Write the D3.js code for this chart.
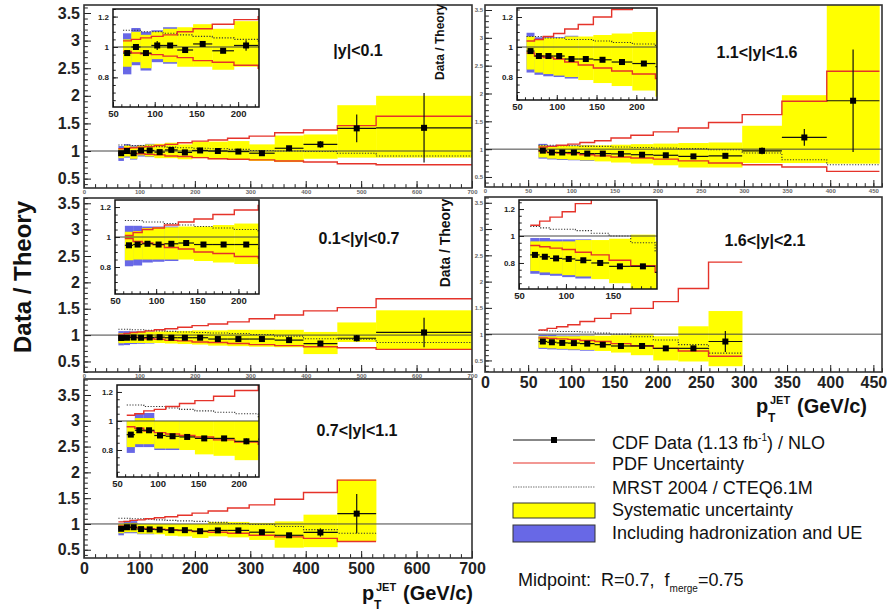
<!DOCTYPE html>
<html lang="en">
<head>
<meta charset="utf-8">
<title>Data / Theory</title>
<script src="https://cdn.jsdelivr.net/npm/d3@7"></script>
<style>
  body { margin: 0; background: #fff; }
  text { font-family: "Liberation Sans", Arial, sans-serif; }
</style>
</head>
<body>
<svg id="chart" width="889" height="614"></svg>
<script>
// pT bin edges (GeV/c), shared by all rapidity regions
var edges = [62, 72, 83, 96, 110, 127, 146, 169, 195, 224, 259, 298, 344, 396, 457, 527, 700];

// |y|<0.1
var ratioA = [0.96, 1.0, 0.96, 1.01, 1.01, 0.98, 1.02, 0.975, 1.01, 1.0, 0.99, 0.96, 1.05, 1.12, 1.41, 1.42];
var statA  = [0.01, 0.01, 0.015, 0.03, 0.01, 0.01, 0.01, 0.015, 0.035, 0.01, 0.01, 0.02, 0.03, 0.06, 0.25, 0.63];
var sysUpA = [1.05, 1.1, 1.08, 1.1, 1.12, 1.13, 1.15, 1.12, 1.17, 1.17, 1.18, 1.12, 1.28, 1.3, 1.83, 2.0];
var sysLoA = [0.87, 0.9, 0.86, 0.92, 0.9, 0.87, 0.87, 0.85, 0.87, 0.85, 0.84, 0.82, 0.8, 0.86, 0.88, 0.88];
var hadUpA = [1.09, 1.125, 1.1, 1.11, 1.13];
var hadLoA = [0.82, 0.88, 0.845, 0.9, 0.89];
var pdfUpA = [1.04, 1.05, 1.06, 1.07, 1.08, 1.1, 1.12, 1.15, 1.18, 1.2, 1.23, 1.27, 1.33, 1.38, 1.46, 1.63];
var pdfLoA = [0.97, 0.96, 0.955, 0.95, 0.94, 0.93, 0.91, 0.9, 0.88, 0.86, 0.85, 0.84, 0.82, 0.8, 0.77, 0.75];
var mrstA  = [1.11, 1.11, 1.1, 1.1, 1.09, 1.08, 1.07, 1.06, 1.05, 1.04, 1.03, 1.01, 1.0, 0.99, 0.96, 0.91];

// 0.1<|y|<0.7
var ratioB = [0.945, 0.95, 0.955, 0.95, 0.955, 0.96, 0.95, 0.95, 0.95, 0.925, 0.925, 0.925, 0.905, 0.84, 0.94, 1.05];
var statB  = [0.005, 0.005, 0.005, 0.005, 0.005, 0.005, 0.005, 0.01, 0.01, 0.01, 0.02, 0.02, 0.03, 0.05, 0.06, 0.28];
var sysUpB = [1.035, 1.04, 1.06, 1.065, 1.065, 1.07, 1.07, 1.08, 1.09, 1.09, 1.1, 1.1, 1.1, 1.06, 1.24, 1.47];
var sysLoB = [0.845, 0.85, 0.85, 0.85, 0.85, 0.85, 0.84, 0.83, 0.82, 0.8, 0.79, 0.78, 0.77, 0.64, 0.87, 0.72];
var hadUpB = [1.075, 1.075, 1.07, 1.07, 1.07];
var hadLoB = [0.805, 0.81, 0.83, 0.835, 0.84];
var pdfUpB = [1.01, 1.03, 1.05, 1.06, 1.08, 1.1, 1.12, 1.15, 1.18, 1.21, 1.25, 1.31, 1.38, 1.46, 1.52, 1.69];
var pdfLoB = [0.99, 0.97, 0.96, 0.95, 0.93, 0.92, 0.9, 0.89, 0.87, 0.86, 0.84, 0.82, 0.8, 0.78, 0.76, 0.73];
var mrstB  = [1.11, 1.11, 1.1, 1.1, 1.09, 1.08, 1.07, 1.06, 1.05, 1.04, 1.03, 1.01, 0.98, 0.93, 0.92, 0.86];

// 0.7<|y|<1.1
var ratioC = [0.906, 0.936, 0.936, 0.9, 0.895, 0.89, 0.88, 0.88, 0.86, 0.875, 0.875, 0.84, 0.78, 0.835, 1.2];
var statC  = [0.005, 0.005, 0.005, 0.005, 0.005, 0.005, 0.01, 0.01, 0.02, 0.01, 0.02, 0.03, 0.04, 0.08, 0.38];
var sysUpC = [1.0, 1.02, 1.02, 1.0, 1.0, 1.0, 1.0, 1.0, 1.0, 1.04, 1.04, 1.02, 1.05, 1.18, 1.86];
var sysLoC = [0.82, 0.84, 0.84, 0.81, 0.81, 0.8, 0.77, 0.76, 0.73, 0.76, 0.74, 0.69, 0.54, 0.55, 0.67];
var hadUpC = [1.0, 1.055, 1.055, 1.0, 1.0];
var hadLoC = [0.78, 0.82, 0.82, 0.8, 0.8];
var pdfUpC = [1.04, 1.05, 1.07, 1.08, 1.1, 1.12, 1.14, 1.17, 1.21, 1.25, 1.31, 1.37, 1.48, 1.61, 1.85];
var pdfLoC = [0.96, 0.95, 0.93, 0.92, 0.91, 0.9, 0.89, 0.87, 0.855, 0.84, 0.82, 0.78, 0.75, 0.72, 0.66];
var mrstC  = [1.11, 1.11, 1.1, 1.1, 1.09, 1.08, 1.07, 1.06, 1.05, 1.03, 1.01, 0.99, 0.95, 0.89, 0.82];

// 1.1<|y|<1.6
var ratioD = [0.973, 0.94, 0.94, 0.94, 0.92, 0.92, 0.915, 0.9, 0.89, 0.87, 0.88, 0.97, 1.21, 1.87];
var statD  = [0.005, 0.005, 0.005, 0.005, 0.005, 0.005, 0.01, 0.015, 0.01, 0.02, 0.04, 0.06, 0.15, 0.92];
var sysUpD = [1.07, 1.05, 1.06, 1.06, 1.07, 1.07, 1.08, 1.09, 1.1, 1.11, 1.12, 1.42, 1.97, 3.7];
var sysLoD = [0.85, 0.83, 0.82, 0.81, 0.8, 0.78, 0.76, 0.74, 0.71, 0.67, 0.67, 0.75, 0.75, 0.74];
var hadUpD = [1.095, 1.065, 1.065, 1.065, 1.075];
var hadLoD = [0.83, 0.815, 0.805, 0.8, 0.79];
var pdfUpD = [1.04, 1.05, 1.07, 1.09, 1.12, 1.15, 1.2, 1.25, 1.31, 1.38, 1.48, 1.62, 1.86, 2.4];
var pdfLoD = [0.96, 0.94, 0.93, 0.92, 0.9, 0.88, 0.86, 0.84, 0.82, 0.79, 0.75, 0.72, 0.68, 0.6];
var mrstD  = [1.07, 1.07, 1.06, 1.06, 1.05, 1.05, 1.04, 1.03, 1.02, 1.01, 0.99, 0.93, 0.81, 0.72];

// 1.6<|y|<2.1
var ratioE = [0.86, 0.846, 0.834, 0.83, 0.82, 0.8, 0.775, 0.775, 0.73, 0.73, 0.86];
var statE  = [0.005, 0.005, 0.005, 0.005, 0.005, 0.01, 0.01, 0.01, 0.02, 0.04, 0.2];
var sysUpE = [0.96, 0.96, 0.96, 0.96, 0.97, 0.97, 0.98, 1.01, 0.96, 1.15, 1.44];
var sysLoE = [0.74, 0.73, 0.72, 0.71, 0.7, 0.68, 0.65, 0.6, 0.5, 0.48, 0.39];
var hadUpE = [0.985, 0.985, 0.975, 0.975, 0.975];
var hadLoE = [0.72, 0.71, 0.705, 0.695, 0.685];
var pdfUpE = [1.08, 1.11, 1.14, 1.18, 1.24, 1.3, 1.39, 1.49, 1.62, 1.87, 2.37];
var pdfLoE = [0.93, 0.92, 0.91, 0.9, 0.88, 0.86, 0.82, 0.78, 0.73, 0.68, 0.58];
var mrstE  = [1.07, 1.06, 1.05, 1.05, 1.04, 1.02, 1.0, 0.95, 0.89, 0.8, 0.64];

// tick labels
var yTicks = [0.5, 1, 1.5, 2, 2.5, 3, 3.5];
var xTicksLeft = [0, 100, 200, 300, 400, 500, 600, 700];
var xTicksRight = [0, 50, 100, 150, 200, 250, 300, 350, 400, 450];
var insetYTicks = [0.8, 1, 1.2];
var insetXTicks = [50, 100, 150, 200];

var legendLabels = ["CDF Data (1.13 fb", "PDF Uncertainty", "MRST 2004 / CTEQ6.1M",
                    "Systematic uncertainty", "Including hadronization and UE"];

var YELLOW = "#ffff00", BLUE = "#6868e6", RED = "#e5332a";

var panels = [
  { label: "|y|<0.1", ratio: ratioA, stat: statA, sysUp: sysUpA, sysLo: sysLoA, hadUp: hadUpA, hadLo: hadLoA,
    pdfUp: pdfUpA, pdfLo: pdfLoA, mrst: mrstA,
    box: [84, 5, 472, 188], xMax: 700, yDom: [0.33, 3.645], side: "left", bigX: false, labelAt: [358, 56],
    inset: { box: [113, 9, 259, 107], xDom: [50, 225], yDom: [0.605, 1.25] } },
  { label: "0.1<|y|<0.7", ratio: ratioB, stat: statB, sysUp: sysUpB, sysLo: sysLoB, hadUp: hadUpB, hadLo: hadLoB,
    pdfUp: pdfUpB, pdfLo: pdfLoB, mrst: mrstB,
    box: [84, 198, 472, 372], xMax: 700, yDom: [0.3, 3.6], side: "left", bigX: false, labelAt: [359, 244],
    inset: { box: [115, 200, 259, 294], xDom: [50, 225], yDom: [0.62, 1.247] } },
  { label: "0.7<|y|<1.1", ratio: ratioC, stat: statC, sysUp: sysUpC, sysLo: sysLoC, hadUp: hadUpC, hadLo: hadLoC,
    pdfUp: pdfUpC, pdfLo: pdfLoC, mrst: mrstC,
    box: [84, 379, 472, 558], xMax: 700, yDom: [0.34, 3.81], side: "left", bigX: true, labelAt: [357, 436],
    inset: { box: [117, 385, 259, 477], xDom: [50, 225], yDom: [0.614, 1.248] } },
  { label: "1.1<|y|<1.6", ratio: ratioD, stat: statD, sysUp: sysUpD, sysLo: sysLoD, hadUp: hadUpD, hadLo: hadLoD,
    pdfUp: pdfUpD, pdfLo: pdfLoD, mrst: mrstD,
    box: [485, 5, 882, 187], xMax: 460, yDom: [0.32, 3.59], side: "right", bigX: false, labelAt: [757, 58],
    inset: { box: [517, 8, 657, 100], xDom: [50, 226], yDom: [0.647, 1.26] } },
  { label: "1.6<|y|<2.1", ratio: ratioE, stat: statE, sysUp: sysUpE, sysLo: sysLoE, hadUp: hadUpE, hadLo: hadLoE,
    pdfUp: pdfUpE, pdfLo: pdfLoE, mrst: mrstE,
    box: [485, 197, 882, 372], xMax: 460, yDom: [0.28, 3.61], side: "right", bigX: true, labelAt: [765, 246],
    inset: { box: [519, 200, 657, 289], xDom: [50, 197], yDom: [0.607, 1.267] } }
];

var svg = d3.select("#chart");
var clipId = 0;

function clipGroup(parent, b) {
  var id = "clip" + (clipId++);
  svg.append("clipPath").attr("id", id).append("rect")
    .attr("x", b[0]).attr("y", b[1]).attr("width", b[2] - b[0]).attr("height", b[3] - b[1]);
  return parent.append("g").attr("clip-path", "url(#" + id + ")");
}

function stepLine(x, y) {
  return d3.line().curve(d3.curveStepAfter).x(function(d) { return x(d[0]); }).y(function(d) { return y(d[1]); });
}

// bands, lines and points of one rapidity region
function drawSeries(g, x, y, p, ms) {
  var n = p.ratio.length;
  var e = edges.slice(0, n + 1);
  var idx = d3.range(n);
  var stepPts = function(v) {
    return idx.map(function(i) { return [e[i], v[i]]; }).concat([[e[n], v[n - 1]]]);
  };

  g.selectAll(null).data(d3.range(p.hadUp.length)).join("rect")
    .attr("x", function(i) { return x(e[i]); })
    .attr("width", function(i) { return x(e[i + 1]) - x(e[i]); })
    .attr("y", function(i) { return y(p.hadUp[i]); })
    .attr("height", function(i) { return y(p.hadLo[i]) - y(p.hadUp[i]); })
    .attr("fill", BLUE);

  g.selectAll(null).data(idx).join("rect")
    .attr("x", function(i) { return x(e[i]); })
    .attr("width", function(i) { return x(e[i + 1]) - x(e[i]) + 0.3; })
    .attr("y", function(i) { return y(p.sysUp[i]); })
    .attr("height", function(i) { return y(p.sysLo[i]) - y(p.sysUp[i]); })
    .attr("fill", YELLOW);

  g.append("path").attr("d", stepLine(x, y)(stepPts(p.mrst)))
    .attr("fill", "none").attr("stroke", "#333").attr("stroke-width", 1.1).attr("stroke-dasharray", "1.2,1.6");

  [p.pdfUp, p.pdfLo].forEach(function(v) {
    g.append("path").attr("d", stepLine(x, y)(stepPts(v)))
      .attr("fill", "none").attr("stroke", RED).attr("stroke-width", 1.4);
  });

  var xr = x.range();
  g.append("line").attr("x1", xr[0]).attr("x2", xr[1]).attr("y1", y(1)).attr("y2", y(1))
    .attr("stroke", "#444").attr("stroke-width", 1);

  g.selectAll(null).data(idx).join("line")
    .attr("x1", function(i) { return x(e[i]); }).attr("x2", function(i) { return x(e[i + 1]); })
    .attr("y1", function(i) { return y(p.ratio[i]); }).attr("y2", function(i) { return y(p.ratio[i]); })
    .attr("stroke", "#111").attr("stroke-width", 1.2);

  g.selectAll(null).data(idx).join("line")
    .attr("x1", function(i) { return x((e[i] + e[i + 1]) / 2); })
    .attr("x2", function(i) { return x((e[i] + e[i + 1]) / 2); })
    .attr("y1", function(i) { return y(p.ratio[i] + p.stat[i]); })
    .attr("y2", function(i) { return y(p.ratio[i] - p.stat[i]); })
    .attr("stroke", "#111").attr("stroke-width", 1.2);

  g.selectAll(null).data(idx).join("rect")
    .attr("x", function(i) { return x((e[i] + e[i + 1]) / 2) - ms / 2; })
    .attr("y", function(i) { return y(p.ratio[i]) - ms / 2; })
    .attr("width", ms).attr("height", ms).attr("fill", "#000");
}

// inward ROOT-like ticks
function ticks(g, scale, orient, at, major, minor, len, lab) {
  var mk = orient === "bottom" ? d3.axisBottom : d3.axisLeft;
  var tr = orient === "bottom" ? "translate(0," + at + ")" : "translate(" + at + ",0)";
  var gm = g.append("g").attr("transform", tr)
    .call(mk(scale).tickValues(minor).tickSize(-len * 0.55).tickFormat(""));
  var gM = g.append("g").attr("transform", tr)
    .call(mk(scale).tickValues(major).tickSize(-len).tickPadding(lab.pad)
      .tickFormat(lab.show ? function(d) { return String(d); } : ""));
  [gm, gM].forEach(function(a) {
    a.select(".domain").remove();
    a.selectAll("line").attr("stroke", "#222");
  });
  gM.selectAll("text").attr("font-size", lab.size).attr("font-weight", "bold")
    .attr("fill", lab.color || "#222").attr("font-family", "Liberation Sans, Arial, sans-serif");
}

function minorRange(lo, hi, step) {
  var out = [];
  for (var k = Math.ceil(lo / step - 1e-9); k * step <= hi + 1e-9; k++) out.push(+(k * step).toFixed(4));
  return out;
}

panels.forEach(function(p) {
  var b = p.box;
  var g = svg.append("g");
  var x = d3.scaleLinear().domain([0, p.xMax]).range([b[0], b[2]]);
  var y = d3.scaleLinear().domain(p.yDom).range([b[3], b[1]]);

  drawSeries(clipGroup(g, b), x, y, p, 6);

  var big = { show: true, size: 16, pad: 5 };
  var tiny = { show: true, size: 6, pad: 2, color: "#666" };
  ticks(g, y, "left", b[0], yTicks, minorRange(p.yDom[0], p.yDom[1], 0.1), 7,
        p.side === "left" ? { show: true, size: 16, pad: 4 } : tiny);
  ticks(g, x, "bottom", b[3], p.side === "left" ? xTicksLeft : xTicksRight,
        minorRange(0, p.xMax, p.side === "left" ? 20 : 10), 7, p.bigX ? big : { show: true, size: 6, pad: 2, color: "#666" });

  g.append("rect").attr("x", b[0]).attr("y", b[1]).attr("width", b[2] - b[0]).attr("height", b[3] - b[1])
    .attr("fill", "none").attr("stroke", "#333").attr("stroke-width", 1.6);

  // inset zoom on the low-pT region
  var ib = p.inset.box;
  var xi = d3.scaleLinear().domain(p.inset.xDom).range([ib[0], ib[2]]);
  var yi = d3.scaleLinear().domain(p.inset.yDom).range([ib[3], ib[1]]);
  g.append("rect").attr("x", ib[0]).attr("y", ib[1]).attr("width", ib[2] - ib[0]).attr("height", ib[3] - ib[1])
    .attr("fill", "#fff");
  drawSeries(clipGroup(g, ib), xi, yi, p, 6);
  ticks(g, yi, "left", ib[0], insetYTicks, minorRange(p.inset.yDom[0], p.inset.yDom[1], 0.05), 5,
        { show: true, size: 8, pad: 4 });
  ticks(g, xi, "bottom", ib[3], insetXTicks.filter(function(v) { return v <= p.inset.xDom[1]; }),
        minorRange(p.inset.xDom[0], p.inset.xDom[1], 10), 5, { show: true, size: 9.5, pad: 3 });
  g.append("rect").attr("x", ib[0]).attr("y", ib[1]).attr("width", ib[2] - ib[0]).attr("height", ib[3] - ib[1])
    .attr("fill", "none").attr("stroke", "#111").attr("stroke-width", 1.5);

  g.append("text").attr("x", p.labelAt[0]).attr("y", p.labelAt[1]).attr("text-anchor", "middle")
    .attr("font-size", 16).attr("font-weight", "bold").attr("fill", "#111").text(p.label);
});

// axis titles
svg.append("text").attr("transform", "translate(31,277) rotate(-90)").attr("text-anchor", "middle")
  .attr("font-size", 24).attr("font-weight", "bold").attr("fill", "#111").text("Data / Theory");
[[444, 42, 12], [450, 243, 14]].forEach(function(t) {
  svg.append("text").attr("transform", "translate(" + t[0] + "," + t[1] + ") rotate(-90)")
    .attr("text-anchor", "middle").attr("font-size", t[2]).attr("font-weight", "bold")
    .attr("fill", "#111").text("Data / Theory");
});

function ptTitle(x0, y0) {
  var t = svg.append("g").attr("transform", "translate(" + x0 + "," + y0 + ")")
    .attr("font-weight", "bold").attr("fill", "#111");
  t.append("text").attr("x", 0).attr("y", 0).attr("font-size", 20).text("p");
  t.append("text").attr("x", 12).attr("y", 9).attr("font-size", 12).text("T");
  t.append("text").attr("x", 14).attr("y", -9).attr("font-size", 11).text("JET");
  t.append("text").attr("x", 41).attr("y", 0).attr("font-size", 20).text("(GeV/c)");
}
ptTitle(362, 600);
ptTitle(756, 413);

// legend
var lg = svg.append("g").attr("font-size", 18).attr("fill", "#111");
var lx0 = 513, lx1 = 595, tx = 612;
lg.append("line").attr("x1", lx0).attr("x2", lx1).attr("y1", 440).attr("y2", 440).attr("stroke", "#111");
lg.append("rect").attr("x", 551).attr("y", 437).attr("width", 6).attr("height", 6).attr("fill", "#000");
lg.append("line").attr("x1", lx0).attr("x2", lx1).attr("y1", 463).attr("y2", 463).attr("stroke", RED).attr("stroke-width", 1.2);
lg.append("line").attr("x1", lx0).attr("x2", lx1).attr("y1", 487).attr("y2", 487)
  .attr("stroke", "#777").attr("stroke-width", 1.2).attr("stroke-dasharray", "1.5,1");
lg.append("rect").attr("x", lx0).attr("y", 503).attr("width", lx1 - lx0).attr("height", 15)
  .attr("fill", YELLOW).attr("stroke", "#333");
lg.append("rect").attr("x", lx0).attr("y", 525).attr("width", lx1 - lx0).attr("height", 17)
  .attr("fill", BLUE).attr("stroke", "#333");

var t0 = lg.append("text").attr("x", tx).attr("y", 449);
t0.append("tspan").text(legendLabels[0]);
t0.append("tspan").attr("font-size", 10).attr("dy", -8).text("-1");
t0.append("tspan").attr("dy", 8).text(") / NLO");
[[470, 1], [494, 2], [516, 3], [539, 4]].forEach(function(r) {
  lg.append("text").attr("x", tx).attr("y", r[0]).text(legendLabels[r[1]]);
});
var mp = lg.append("text").attr("x", 518).attr("y", 586).style("white-space", "pre");
mp.append("tspan").text("Midpoint:  R=0.7,  f");
mp.append("tspan").attr("font-size", 10).attr("dy", 6).text("merge");
mp.append("tspan").attr("dy", -6).text("=0.75");
</script>
</body>
</html>
